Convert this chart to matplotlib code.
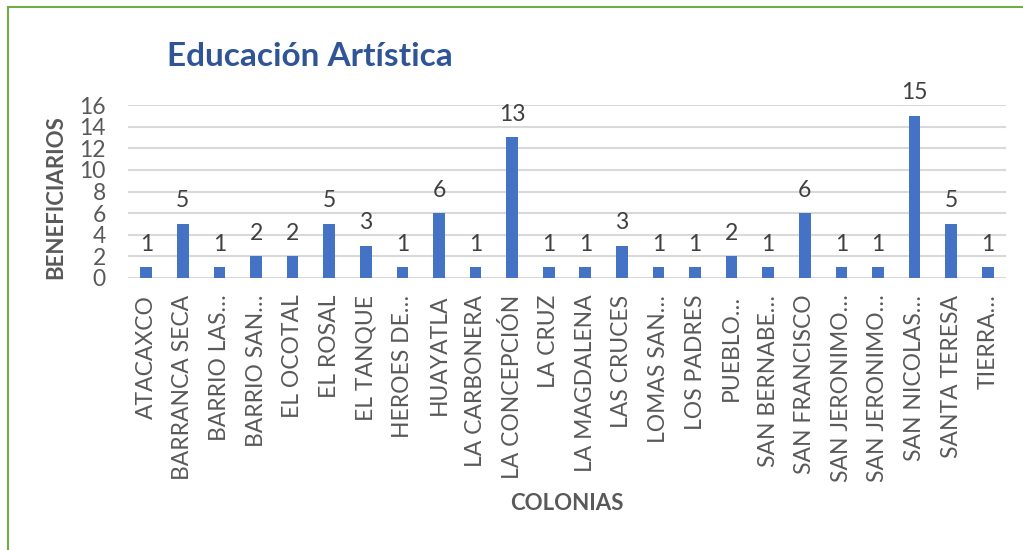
import matplotlib.pyplot as plt
from matplotlib.lines import Line2D
import numpy as np

# Datos
colonias = ['ATACAXCO', 'BARRANCA SECA', 'BARRIO LAS…', 'BARRIO SAN…', 'EL OCOTAL',
            'EL ROSAL', 'EL TANQUE', 'HEROES DE…', 'HUAYATLA', 'LA CARBONERA',
            'LA CONCEPCIÓN', 'LA CRUZ', 'LA MAGDALENA', 'LAS CRUCES', 'LOMAS SAN…',
            'LOS PADRES', 'PUEBLO…', 'SAN BERNABE…', 'SAN FRANCISCO', 'SAN JERONIMO…',
            'SAN JERONIMO…', 'SAN NICOLAS…', 'SANTA TERESA', 'TIERRA…']
beneficiarios = [1, 5, 1, 2, 2, 5, 3, 1, 6, 1, 13, 1, 1, 3, 1, 1, 2, 1, 6, 1, 1, 15, 5, 1]
y_ticks = [0, 2, 4, 6, 8, 10, 12, 14, 16]

FONT = 'Lato'
GRAY = '#595959'
BAR = '#4472C4'

plt.rcParams['font.family'] = [FONT, 'DejaVu Sans']

fig = plt.figure(figsize=(10.23, 5.5), dpi=100)
ax = fig.add_axes([128 / 1023, 1 - 278 / 550, (1006 - 128) / 1023, (278 - 105) / 550])

x = np.arange(len(colonias))
bars = ax.bar(x, beneficiarios, width=0.32, color=BAR, zorder=3)
for xi, v in zip(x, beneficiarios):
    ax.annotate(str(v), (xi, v), xytext=(0, 9), textcoords='offset points',
                ha='center', va='bottom', fontsize=16.5, color='#404040')

ax.set_xlim(-0.5, len(colonias) - 0.5)
ax.set_ylim(0, 16)
ax.set_yticks(y_ticks)
ax.set_yticklabels([str(t) for t in y_ticks], fontsize=16.5, color=GRAY)
ax.set_xticks(x)
ax.set_xticklabels(colonias, rotation=90, fontsize=16.5, color=GRAY)
ax.tick_params(axis='both', length=0)
ax.tick_params(axis='x', pad=12)
ax.tick_params(axis='y', pad=16)
ax.grid(axis='y', color='#D9D9D9', linewidth=1.5, zorder=0)
for s in ax.spines.values():
    s.set_visible(False)

ax.set_ylabel('BENEFICIARIOS', fontsize=16, fontweight='bold', color=GRAY)
ax.yaxis.set_label_coords(-0.07, 0.47)
fig.text(567 / 1023, 1 - 503 / 550, 'COLONIAS', fontsize=16, fontweight='bold',
         color=GRAY, ha='center', va='center')
fig.text(310 / 1023, 1 - 57 / 550, 'Educación Artística', fontsize=24, fontweight='bold',
         color='#2F5597', ha='center', va='center')

# borde verde
fig.add_artist(Line2D([7.5 / 1023, 7.5 / 1023], [0, 1 - 6.5 / 550], color='#70AD47', linewidth=1.5))
fig.add_artist(Line2D([7.5 / 1023, 1], [1 - 6.5 / 550, 1 - 6.5 / 550], color='#70AD47', linewidth=1.5))

fig.savefig('out.png', dpi=100)
